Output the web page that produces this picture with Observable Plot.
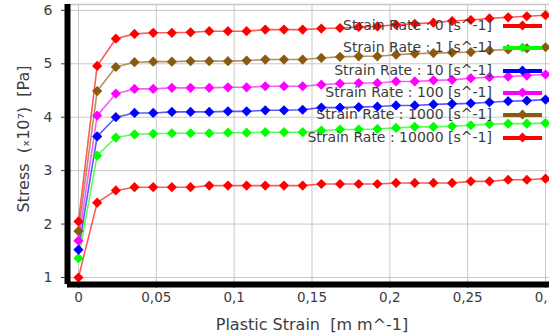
<!DOCTYPE html>
<html>
<head>
<meta charset="utf-8">
<script src="https://cdn.jsdelivr.net/npm/d3@7"></script>
<script src="https://cdn.jsdelivr.net/npm/@observablehq/plot@0.6"></script>
<style>
  html, body { margin: 0; padding: 0; background: #fff; }
  #wrap { position: relative; width: 549px; height: 335px; overflow: hidden; font-family: "DejaVu Sans", sans-serif; color: #3c3c3c; }
  #wrap svg { position: absolute; left: 0; top: 0; }
  .ttl { position: absolute; font-size: 16px; white-space: pre; }
  #xttl { left: 312px; top: 324px; transform: translate(-50%, -50%); }
  #yttl { left: 23px; top: 139px; transform: translate(-50%, -50%) rotate(-90deg); }
  #legend { position: absolute; left: 0; top: 0; width: 549px; height: 150px; pointer-events: none; }
  .row { position: absolute; right: 0; height: 18px; width: 549px; transform: translateY(-50%); }
  .lab { position: absolute; right: 57px; top: 0; font-size: 14px; line-height: 18px; white-space: pre; color: #3c3c3c; }
  .sw { position: absolute; left: 503px; width: 39px; top: 8px; height: 4px; }
  .dm { position: absolute; left: 519px; top: 6px; width: 7px; height: 7px; transform: rotate(45deg); }
</style>
</head>
<body>
<div id="wrap"></div>
<script>
// ---- data ----
const strain = [0, 0.012, 0.024, 0.036, 0.048, 0.06, 0.072, 0.084, 0.096, 0.108, 0.12, 0.132, 0.144,
  0.156, 0.168, 0.18, 0.192, 0.204, 0.216, 0.228, 0.24, 0.252, 0.264, 0.276, 0.288, 0.3];

const rates = ["0", "1", "10", "100", "1000", "10000"];
const rateColors = ["#ff0000", "#00ff00", "#0000ff", "#ff00ff", "#8a5a10", "#ff0000"];

const stress0 = [1.0, 2.40, 2.63, 2.69, 2.69, 2.69, 2.69, 2.72, 2.72, 2.72, 2.72, 2.72, 2.72,
  2.75, 2.75, 2.75, 2.75, 2.77, 2.77, 2.77, 2.77, 2.80, 2.80, 2.83, 2.83, 2.85];
const stress1 = [1.36, 3.28, 3.62, 3.68, 3.69, 3.70, 3.70, 3.70, 3.71, 3.71, 3.72, 3.72, 3.72,
  3.75, 3.77, 3.77, 3.78, 3.80, 3.82, 3.82, 3.83, 3.85, 3.87, 3.88, 3.88, 3.89];
const stress10 = [1.52, 3.64, 4.00, 4.08, 4.08, 4.10, 4.10, 4.10, 4.11, 4.11, 4.13, 4.13, 4.14,
  4.18, 4.18, 4.19, 4.20, 4.22, 4.22, 4.24, 4.25, 4.26, 4.28, 4.30, 4.31, 4.33];
const stress100 = [1.69, 4.03, 4.44, 4.53, 4.53, 4.55, 4.55, 4.55, 4.56, 4.56, 4.58, 4.58, 4.58,
  4.61, 4.63, 4.64, 4.64, 4.67, 4.67, 4.69, 4.70, 4.73, 4.75, 4.76, 4.78, 4.80];
const stress1000 = [1.87, 4.49, 4.94, 5.03, 5.04, 5.04, 5.05, 5.05, 5.05, 5.06, 5.08, 5.08, 5.08,
  5.11, 5.13, 5.14, 5.14, 5.17, 5.19, 5.20, 5.21, 5.22, 5.25, 5.27, 5.29, 5.31];
const stress10000 = [2.05, 4.96, 5.47, 5.56, 5.58, 5.58, 5.59, 5.61, 5.61, 5.61, 5.64, 5.64, 5.64,
  5.66, 5.67, 5.69, 5.70, 5.73, 5.75, 5.77, 5.80, 5.82, 5.85, 5.87, 5.89, 5.91];

const xTicks = [0, 0.05, 0.1, 0.15, 0.2, 0.25, 0.3];
const yTicks = [1, 2, 3, 4, 5, 6];
const xTitle = "Plastic Strain  [m m^-1]";
const yTitle = "Stress  (\u209310\u2077)  [Pa]";

// ---- build table ----
const seriesList = [stress0, stress1, stress10, stress100, stress1000, stress10000];
const rows = seriesList.flatMap((vals, i) =>
  vals.map((v, j) => ({ x: strain[j], y: v, rate: rates[i], color: rateColors[i] })));

const xMin = -0.00705, xMax = 0.30256;
const yMin = 0.869, yMax = 6.11;

const chart = Plot.plot({
  width: 549,
  height: 335,
  marginLeft: 67,
  marginRight: 0,
  marginTop: 4,
  marginBottom: 51,
  style: { fontFamily: "DejaVu Sans, sans-serif", fontSize: "13.5px", color: "#3c3c3c", background: "transparent" },
  x: { domain: [xMin, xMax] },
  y: { domain: [yMin, yMax] },
  color: { type: "identity" },
  marks: [
    Plot.gridX(xTicks, { stroke: "#c8c8c8", strokeOpacity: 1, strokeWidth: 1 }),
    Plot.gridY(yTicks, { stroke: "#c8c8c8", strokeOpacity: 1, strokeWidth: 1 }),
    Plot.ruleY([yMax], { stroke: "#c8c8c8", strokeWidth: 1.5 }),
    Plot.line(rows, { x: "x", y: "y", z: "rate", stroke: "color", strokeWidth: 1.6, strokeOpacity: 0.65 }),
    Plot.dot(rows, { x: "x", y: "y", fill: "color", symbol: "diamond2", r: 4.6, stroke: null }),
    Plot.axisX(xTicks, { tickSize: 4, tickPadding: 4, tickFormat: d => String(d).replace(".", ","), fontSize: 13.5, label: null }),
    Plot.axisY(yTicks, { tickSize: 6, tickPadding: 9, tickFormat: d => String(d), fontSize: 14, label: null }),
    Plot.ruleX([xMin], { stroke: "#000", strokeWidth: 6 }),
    Plot.ruleY([yMin], { stroke: "#000", strokeWidth: 6 })
  ]
});

const wrap = document.getElementById("wrap");
wrap.appendChild(chart);

const xt = document.createElement("div");
xt.className = "ttl"; xt.id = "xttl"; xt.textContent = xTitle;
wrap.appendChild(xt);
const yt = document.createElement("div");
yt.className = "ttl"; yt.id = "yttl"; yt.textContent = yTitle;
wrap.appendChild(yt);

// ---- legend (HTML overlay) ----
const legend = document.createElement("div");
legend.id = "legend";
const rowTops = [25, 47, 69.5, 91.5, 114, 136.5];
rates.forEach((r, i) => {
  const row = document.createElement("div");
  row.className = "row";
  row.style.top = rowTops[i] + "px";
  const lab = document.createElement("span");
  lab.className = "lab";
  lab.textContent = "Strain Rate : " + r + " [s^-1]";
  const sw = document.createElement("div");
  sw.className = "sw"; sw.style.background = rateColors[i];
  const dm = document.createElement("div");
  dm.className = "dm"; dm.style.background = rateColors[i];
  row.appendChild(lab); row.appendChild(sw); row.appendChild(dm);
  legend.appendChild(row);
});
wrap.appendChild(legend);
</script>
</body>
</html>
